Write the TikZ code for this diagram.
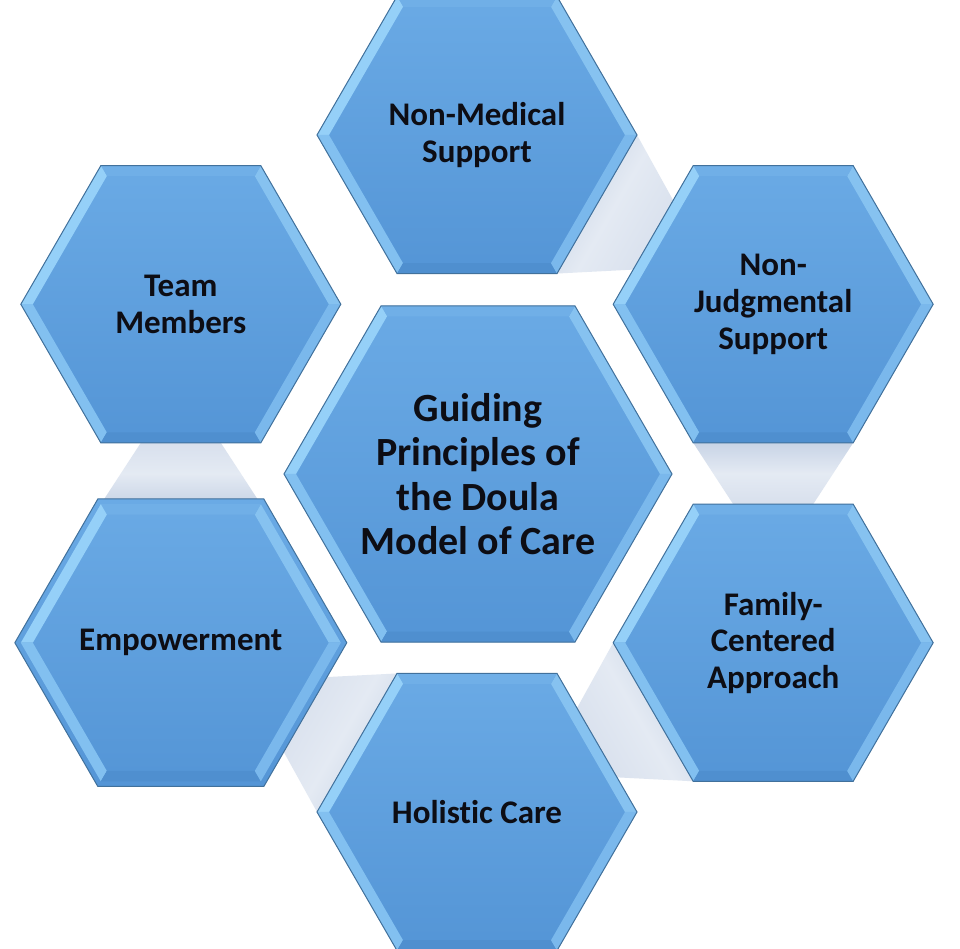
\documentclass[tikz,border=0pt]{standalone}
\usepackage{fontspec}
\setmainfont{Carlito}[Ligatures=NoCommon]
\usetikzlibrary{shapes.geometric,calc,backgrounds}

\definecolor{hextop}{HTML}{6AAAE5}
\definecolor{hexbot}{HTML}{5495D6}
\definecolor{hexline}{HTML}{41719C}
\definecolor{bandur}{HTML}{86C2F0}
\definecolor{bandt}{HTML}{70AFE7}
\definecolor{bandul}{HTML}{95D0F8}
\definecolor{bandll}{HTML}{82C0F0}
\definecolor{bandb}{HTML}{4F8FCF}
\definecolor{bandlr}{HTML}{7AB8EC}
\definecolor{linkdark}{HTML}{C8D4E6}
\definecolor{linklight}{HTML}{E4EAF3}
\definecolor{linkmid}{HTML}{D8E0ED}
\definecolor{textc}{HTML}{0D0D14}

\tikzset{
  hexbox/.style={regular polygon, regular polygon sides=6, minimum size=#1*1.5pt,
    inner sep=0pt, outer sep=0pt, top color=hextop, bottom color=hexbot,
    draw=hexline, line width=0.75pt, align=center, text=textc,
    font=\bfseries\fontsize{24.75pt}{27.5pt}\selectfont,
    path picture={
      \foreach \a/\c in {0/bandur,60/bandt,120/bandul,180/bandll,240/bandb,300/bandlr}
        \fill[\c] ($(path picture bounding box.center)+(\a:#1)$)
          -- ($(path picture bounding box.center)+(\a+60:#1)$)
          -- ($(path picture bounding box.center)+(\a+60:#1-12)$)
          -- ($(path picture bounding box.center)+(\a:#1-12)$) -- cycle;
    }},
  hubbox/.style={hexbox=194, font=\bfseries\fontsize{30pt}{33.4pt}\selectfont},
  linkband/.style={left color=linkdark, right color=linkmid,
    middle color=linklight},
}

\begin{document}
\begin{tikzpicture}[x=0.75pt,y=0.75pt]
  \path[use as bounding box] (0,0) rectangle (960,949);

  \node[hubbox] (hub) at (478,475) {Guiding\\Principles of\\the Doula\\Model of Care};

  % ring of principles, clockwise from the top
  \foreach \a/\n/\t in {90/nonmed/{Non-Medical\\Support},
                        30/nonjudge/{Non-\\Judgmental\\Support},
                        -30/family/{Family-\\Centered\\Approach},
                        -90/holistic/{Holistic Care},
                        -150/empower/{Empowerment},
                        150/team/{Team\\Members}}
    \node[hexbox=160] (\n) at ($(477,475.5)+({342*cos(\a)},{338.5*sin(\a)})$) {\t};

  \begin{scope}[on background layer]
    \fill[white] (0,0) rectangle (960,949);
    % bands: full edge on one side, middle half of the edge on the other
    \foreach \s/\e/\a in {nonmed/nonjudge/90, nonjudge/family/30,
                          family/holistic/-30, holistic/empower/-90,
                          empower/team/-150}
      \path[linkband, shading angle=\a-30]
        ($(\s)+(\a-90:160)$) -- ($(\s)+(\a-150:160)$)
        -- ($(\e)+0.75*(\a+90:160)+0.25*(\a+30:160)$)
        -- ($(\e)+0.25*(\a+90:160)+0.75*(\a+30:160)$) -- cycle;
  \end{scope}
\end{tikzpicture}
\end{document}
